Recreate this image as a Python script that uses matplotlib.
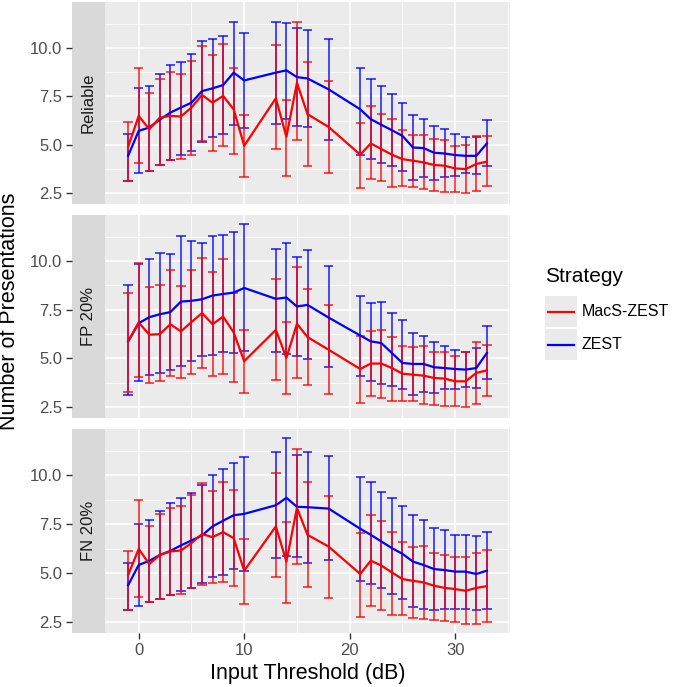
import matplotlib
matplotlib.use("Agg")
import matplotlib.pyplot as plt
from matplotlib.patches import Rectangle
from matplotlib.lines import Line2D

plt.rcParams['font.family'] = ['Liberation Sans', 'DejaVu Sans']

# input thresholds (dB)
x = [-1, 0, 1, 2, 3, 4, 5, 6, 7, 8, 9, 10, 13, 14, 15, 16, 18,
     21, 22, 23, 24, 25, 26, 27, 28, 29, 30, 31, 32, 33]

# Reliable
rel_macs = [4.9, 6.49, 5.8, 6.4, 6.49, 6.46, 6.92, 7.57, 7.17, 7.52, 6.83, 4.95, 7.4, 5.41, 8.2, 6.58, 5.92,
            4.49, 5.07, 4.78, 4.49, 4.26, 4.18, 4.09, 3.96, 3.92, 3.78, 3.75, 4.01, 4.13]
rel_macs_lo = [3.15, 4.06, 3.66, 3.97, 4.21, 4.28, 4.49, 5.17, 4.69, 4.93, 4.52, 3.32, 4.76, 3.37, 5.24, 3.89, 3.53,
               2.77, 3.24, 3.15, 2.81, 2.89, 2.84, 2.72, 2.6, 2.59, 2.55, 2.5, 2.64, 2.89]
rel_macs_hi = [6.2, 8.94, 7.69, 8.37, 8.77, 8.66, 9.31, 10.09, 9.62, 10.2, 8.94, 6.54, 10.17, 7.33, 11.34, 9.26, 8.29,
               6.1, 7.0, 6.61, 6.32, 5.75, 5.51, 5.51, 5.29, 5.26, 4.95, 5.0, 5.43, 5.46]
rel_zest = [4.44, 5.72, 5.89, 6.3, 6.66, 6.92, 7.17, 7.77, 7.91, 8.08, 8.72, 8.32, 8.72, 8.84, 8.49, 8.42, 7.86,
            6.83, 6.32, 6.03, 5.75, 5.46, 4.86, 4.83, 4.59, 4.55, 4.47, 4.43, 4.43, 5.07]
rel_zest_lo = [3.15, 3.53, 3.66, 3.97, 4.21, 4.49, 4.66, 5.12, 5.38, 5.55, 6.03, 5.84, 6.06, 6.35, 5.98, 5.94, 5.27,
               4.49, 4.25, 4.04, 3.89, 3.66, 3.2, 3.32, 3.2, 3.36, 3.41, 3.53, 3.49, 3.92]
rel_zest_hi = [5.55, 7.91, 8.03, 8.63, 9.11, 9.26, 9.69, 10.34, 10.48, 10.6, 11.34, 10.77, 11.34, 11.28, 11.03, 10.91, 10.43,
               8.97, 8.37, 8.03, 7.6, 7.17, 6.54, 6.32, 5.96, 5.79, 5.55, 5.38, 5.41, 6.27]

# FP 20%
fp_macs = [5.88, 6.85, 6.22, 6.25, 6.76, 6.39, 6.87, 7.33, 6.76, 7.15, 6.34, 4.86, 6.47, 5.03, 6.78, 6.1, 5.45,
           4.46, 4.74, 4.74, 4.51, 4.22, 4.17, 4.12, 4.0, 3.97, 3.83, 3.83, 4.26, 4.39]
fp_macs_lo = [3.27, 4.04, 3.75, 3.83, 4.09, 4.0, 4.21, 4.51, 4.09, 4.22, 3.8, 3.24, 3.92, 3.19, 4.0, 3.63, 3.2,
              2.73, 3.07, 2.98, 2.81, 2.81, 2.81, 2.64, 2.61, 2.56, 2.56, 2.53, 2.69, 3.07]
fp_macs_hi = [8.35, 9.91, 8.69, 8.77, 9.54, 8.74, 9.54, 10.17, 9.42, 10.1, 8.35, 6.44, 9.08, 6.85, 9.68, 8.55, 7.75,
              6.18, 6.39, 6.47, 6.08, 5.66, 5.59, 5.62, 5.33, 5.33, 5.14, 5.31, 5.83, 5.71]
fp_zest = [5.88, 6.81, 7.12, 7.27, 7.38, 7.92, 7.96, 8.04, 8.23, 8.31, 8.38, 8.62, 8.06, 8.13, 7.67, 7.75, 7.1,
           6.18, 5.88, 5.79, 5.28, 4.77, 4.72, 4.72, 4.55, 4.51, 4.46, 4.43, 4.51, 5.28]
fp_zest_lo = [3.15, 3.83, 4.14, 4.26, 4.43, 4.63, 4.86, 5.11, 5.2, 5.31, 5.28, 5.37, 5.33, 5.25, 5.11, 4.99, 4.55,
              4.09, 3.87, 3.7, 3.58, 3.46, 3.13, 3.27, 3.24, 3.41, 3.41, 3.54, 3.49, 3.97]
fp_zest_hi = [8.77, 9.85, 10.09, 10.39, 10.36, 11.28, 11.02, 10.94, 11.29, 11.33, 11.47, 11.89, 10.61, 10.95, 10.22, 10.56, 9.76,
              8.23, 7.87, 7.92, 7.36, 6.95, 6.3, 6.13, 5.83, 5.62, 5.45, 5.33, 5.54, 6.68]

# FN 20%
fn_macs = [4.91, 6.24, 5.47, 5.93, 6.11, 6.16, 6.54, 7.0, 6.84, 7.1, 6.79, 5.13, 7.39, 5.59, 8.34, 6.96, 6.36,
           4.96, 5.64, 5.39, 5.04, 4.7, 4.61, 4.53, 4.36, 4.25, 4.19, 4.1, 4.25, 4.34]
fn_macs_lo = [3.1, 3.79, 3.53, 3.7, 3.88, 3.93, 4.22, 4.39, 4.48, 4.56, 4.36, 3.45, 4.82, 3.5, 5.45, 4.27, 3.74,
              2.76, 3.33, 3.1, 2.88, 2.85, 2.71, 2.64, 2.62, 2.54, 2.5, 2.42, 2.42, 2.5]
fn_macs_hi = [6.11, 8.73, 7.39, 8.04, 8.34, 8.42, 8.97, 9.59, 9.19, 9.66, 9.23, 6.76, 10.14, 7.6, 11.34, 9.67, 8.94,
              7.05, 7.96, 7.65, 7.08, 6.57, 6.36, 6.4, 6.02, 5.93, 5.85, 5.81, 6.05, 6.16]
fn_zest = [4.39, 5.42, 5.63, 5.93, 6.14, 6.42, 6.67, 6.93, 7.39, 7.68, 7.96, 8.03, 8.47, 8.85, 8.39, 8.37, 8.3,
           7.27, 6.96, 6.62, 6.28, 5.99, 5.59, 5.42, 5.21, 5.16, 5.08, 5.08, 4.96, 5.13]
fn_zest_lo = [3.1, 3.33, 3.53, 3.7, 3.88, 4.1, 4.22, 4.48, 4.79, 4.91, 5.21, 5.13, 5.8, 5.88, 5.85, 5.54, 5.68,
              4.61, 4.43, 4.22, 3.96, 3.7, 3.28, 3.19, 3.14, 3.16, 3.19, 3.19, 3.1, 3.19]
fn_zest_hi = [5.54, 7.53, 7.7, 8.2, 8.56, 8.82, 9.11, 9.49, 10.02, 10.31, 10.65, 10.91, 11.17, 11.89, 11.03, 11.17, 10.96,
              9.93, 9.66, 9.14, 8.82, 8.42, 7.99, 7.74, 7.31, 7.19, 6.96, 6.96, 6.88, 7.1]

facets = ["Reliable", "FP 20%", "FN 20%"]
strategies = ["MacS-ZEST", "ZEST"]
colors = {"MacS-ZEST": "#FF0000", "ZEST": "#0000FF"}

panels = [
    {"MacS-ZEST": (rel_macs, rel_macs_lo, rel_macs_hi), "ZEST": (rel_zest, rel_zest_lo, rel_zest_hi)},
    {"MacS-ZEST": (fp_macs, fp_macs_lo, fp_macs_hi), "ZEST": (fp_zest, fp_zest_lo, fp_zest_hi)},
    {"MacS-ZEST": (fn_macs, fn_macs_lo, fn_macs_hi), "ZEST": (fn_zest, fn_zest_lo, fn_zest_hi)},
]

W, H = 677, 687
fig = plt.figure(figsize=(W / 100, H / 100), dpi=100)

cap = 0.45
xlo, xhi = min(x) - cap, max(x) + cap
xlim = (xlo - 0.05 * (xhi - xlo), xhi + 0.05 * (xhi - xlo))
all_vals = rel_macs_lo + rel_macs_hi + rel_zest_lo + rel_zest_hi + fp_macs_lo + fp_macs_hi + \
    fp_zest_lo + fp_zest_hi + fn_macs_lo + fn_macs_hi + fn_zest_lo + fn_zest_hi
ylo, yhi = min(all_vals), max(all_vals)
ylim = (ylo - 0.05 * (yhi - ylo), yhi + 0.05 * (yhi - ylo))

# pixel layout of the panels
px_left, px_right, strip_w = 105, 510, 33
panel_y = [(2, 204), (215, 418), (429, 633)]


def fx(px):
    return px / W


def fy(py):
    return 1 - py / H


for i, (top, bot) in enumerate(panel_y):
    ax = fig.add_axes([fx(px_left), fy(bot), fx(px_right - px_left), (bot - top) / H])
    sx = fig.add_axes([fx(px_left - strip_w), fy(bot), fx(strip_w), (bot - top) / H])

    ax.set_facecolor("#EBEBEB")
    for s in ax.spines.values():
        s.set_visible(False)
    ax.set_xlim(xlim)
    ax.set_ylim(ylim)
    ax.set_xticks([0, 10, 20, 30])
    ax.set_xticks([5, 15, 25, 35], minor=True)
    ax.set_yticks([2.5, 5.0, 7.5, 10.0])
    ax.set_yticks([3.75, 6.25, 8.75, 11.25], minor=True)
    ax.grid(True, which="major", color="white", lw=1.1)
    ax.grid(True, which="minor", color="white", lw=0.55)
    ax.set_axisbelow(True)
    ax.tick_params(axis="y", which="both", left=False, labelleft=False)
    ax.tick_params(axis="x", which="minor", bottom=False)
    if i == 2:
        ax.tick_params(axis="x", which="major", length=4, width=1, color="#333333",
                       labelsize=12, labelcolor="#4D4D4D", pad=3)
    else:
        ax.tick_params(axis="x", which="major", bottom=False, labelbottom=False)

    # error bars first (blue under red), then the mean lines
    for strat in ["ZEST", "MacS-ZEST"]:
        m, lo, hi = panels[i][strat]
        c = colors[strat]
        ax.vlines(x, lo, hi, color=c, alpha=0.7, lw=1.4)
        ax.hlines(lo, [v - cap for v in x], [v + cap for v in x], color=c, alpha=0.7, lw=1.4)
        ax.hlines(hi, [v - cap for v in x], [v + cap for v in x], color=c, alpha=0.7, lw=1.4)
    for strat in ["ZEST", "MacS-ZEST"]:
        m = panels[i][strat][0]
        ax.plot(x, m, color=colors[strat], lw=1.6)

    # strip on the left with the y axis next to it
    sx.set_facecolor("#D9D9D9")
    for s in sx.spines.values():
        s.set_visible(False)
    sx.set_ylim(ylim)
    sx.set_xticks([])
    sx.set_yticks([2.5, 5.0, 7.5, 10.0])
    sx.set_yticklabels(["2.5", "5.0", "7.5", "10.0"])
    sx.tick_params(axis="y", length=4, width=1, color="#333333",
                   labelsize=12, labelcolor="#4D4D4D", pad=3)
    sx.text(0.5, 0.5, facets[i], rotation=90, ha="center", va="center",
            transform=sx.transAxes, fontsize=12, color="#1A1A1A")

fig.text(fx(10), fy(311), "Number of Presentations", rotation=90, ha="center", va="center",
         fontsize=15.5, color="black")
fig.text(fx((px_left + px_right) / 2), fy(673), "Input Threshold (dB)", ha="center", va="center",
         fontsize=15.5, color="black")

# legend
fig.text(fx(545), fy(277), "Strategy", ha="left", va="center", fontsize=15, color="black")
for k, strat in enumerate(strategies):
    top = 296 + k * 33
    fig.add_artist(Rectangle((fx(545), fy(top + 31)), fx(32), 31 / H,
                             transform=fig.transFigure, facecolor="#EBEBEB", edgecolor="none"))
    yc = fy(top + 15.5)
    fig.add_artist(Line2D([fx(548), fx(574)], [yc, yc], transform=fig.transFigure,
                          color=colors[strat], lw=1.6))
    fig.text(fx(582), yc, strat, ha="left", va="center", fontsize=11.5, color="black")

fig.savefig("out.png", dpi=100)
